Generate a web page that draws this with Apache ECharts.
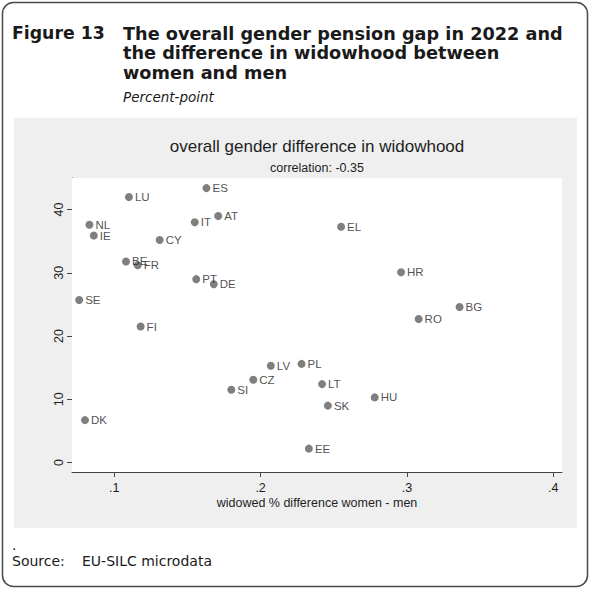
<!DOCTYPE html>
<html>
<head>
<meta charset="utf-8">
<script src="https://cdn.jsdelivr.net/npm/echarts@6/dist/echarts.min.js"></script>
<style>
  html, body { margin: 0; padding: 0; background: #fff; }
  #chart { width: 590px; height: 589px; }
</style>
</head>
<body>
<div id="chart"></div>
<script>
// Country codes and their values: widowhood share difference (women - men)
// and the overall gender pension gap in 2022 (percent-points)
const countries = ['ES','LU','AT','IT','NL','IE','CY','BE','FR','PT','DE','SE','FI',
                   'EL','HR','BG','RO','LV','PL','CZ','SI','DK','EE','LT','HU','SK'];
const widowDiff = [0.163,0.110,0.171,0.155,0.083,0.086,0.131,0.108,0.116,0.156,0.168,0.076,0.118,
                   0.255,0.296,0.336,0.308,0.207,0.228,0.195,0.180,0.080,0.233,0.242,0.278,0.246];
const pensionGap = [43.4,42.0,39.0,38.0,37.6,35.9,35.2,31.8,31.2,29.0,28.2,25.7,21.5,
                    37.3,30.1,24.6,22.7,15.3,15.6,13.1,11.5,6.7,2.2,12.4,10.3,9.0];
const xTicks = [0.1, 0.2, 0.3, 0.4];
const yTicks = [0, 10, 20, 30, 40];

const points = countries.map((c, i) => ({ name: c, value: [widowDiff[i], pensionGap[i]] }));

const HEAD_FONT = '"DejaVu Sans", Verdana, sans-serif';
const PLOT_FONT = '"Liberation Sans", Arial, sans-serif';

const chart = echarts.init(document.getElementById('chart'), null, { renderer: 'svg' });

chart.setOption({
  animation: false,
  backgroundColor: '#ffffff',
  graphic: [
    { type: 'rect', z: -20, silent: true,
      shape: { x: 2.5, y: 2.5, width: 585, height: 584, r: 11 },
      style: { fill: '#ffffff', stroke: '#4a4a4a', lineWidth: 1.5 } },
    { type: 'rect', z: -10, silent: true,
      shape: { x: 14, y: 118, width: 563, height: 410 },
      style: { fill: '#efefef' } },
    { type: 'text', left: 12, top: 24,
      style: { text: 'Figure 13', font: 'bold 17.3px ' + HEAD_FONT, fill: '#1a1a1a' } },
    { type: 'text', left: 123, top: 24,
      style: { text: 'The overall gender pension gap in 2022 and\nthe difference in widowhood between\nwomen and men',
               font: 'bold 17.7px ' + HEAD_FONT, lineHeight: 19.5, fill: '#1a1a1a' } },
    { type: 'text', left: 123, top: 90,
      style: { text: 'Percent-point', font: 'italic 13.5px ' + HEAD_FONT, fill: '#1a1a1a' } },
    { type: 'text', left: 12, top: 538,
      style: { text: '.', font: '14px ' + HEAD_FONT, fill: '#1a1a1a' } },
    { type: 'text', left: 12, top: 554,
      style: { text: 'Source:', font: '14px ' + HEAD_FONT, fill: '#1a1a1a' } },
    { type: 'text', left: 82, top: 554,
      style: { text: 'EU-SILC microdata', font: '14px ' + HEAD_FONT, fill: '#1a1a1a' } },
    { type: 'text', x: 317, y: 146,
      style: { text: 'overall gender difference in widowhood', font: '17px ' + PLOT_FONT,
               fill: '#1e1e1e', align: 'center', verticalAlign: 'middle' } },
    { type: 'text', x: 317, y: 168,
      style: { text: 'correlation: -0.35', font: '12.5px ' + PLOT_FONT,
               fill: '#1e1e1e', align: 'center', verticalAlign: 'middle' } }
  ],
  grid: {
    left: 72, right: 28, top: 178, bottom: 117,
    show: true, backgroundColor: '#ffffff', borderWidth: 0, z: 1
  },
  xAxis: {
    type: 'value', min: 0.0711, max: 0.406,
    name: 'widowed % difference women - men', nameLocation: 'middle', nameGap: 24,
    nameTextStyle: { fontFamily: PLOT_FONT, fontSize: 12.5, color: '#1e1e1e' },
    axisLine: { show: true, onZero: false, lineStyle: { color: '#444', width: 1 } },
    axisTick: { show: true, length: 5, inside: false, customValues: xTicks,
                lineStyle: { color: '#444', width: 1 } },
    axisLabel: { customValues: xTicks, margin: 9, fontFamily: PLOT_FONT, fontSize: 12.5, color: '#1e1e1e',
                 formatter: v => String(Math.round(v * 10) / 10).replace(/^0/, '') },
    splitLine: { show: false }
  },
  yAxis: {
    type: 'value', min: -1.5, max: 45,
    axisLine: { show: true, onZero: false, lineStyle: { color: '#444', width: 1 } },
    axisTick: { show: true, length: 5, inside: false, customValues: yTicks,
                lineStyle: { color: '#444', width: 1 } },
    axisLabel: { customValues: yTicks, rotate: 90, margin: 7, fontFamily: PLOT_FONT, fontSize: 12.5,
                 color: '#1e1e1e' },
    splitLine: { show: true, lineStyle: { color: '#e6e6e6', width: 1.5 } }
  },
  series: [{
    type: 'scatter',
    data: points,
    symbol: 'circle',
    symbolSize: 8,
    itemStyle: { color: '#5f5f5f' },
    label: {
      show: true, position: 'right', distance: 2,
      formatter: p => p.name,
      fontFamily: PLOT_FONT, fontSize: 11.5, color: '#222'
    },
    z: 5
  }]
});
</script>
</body>
</html>
